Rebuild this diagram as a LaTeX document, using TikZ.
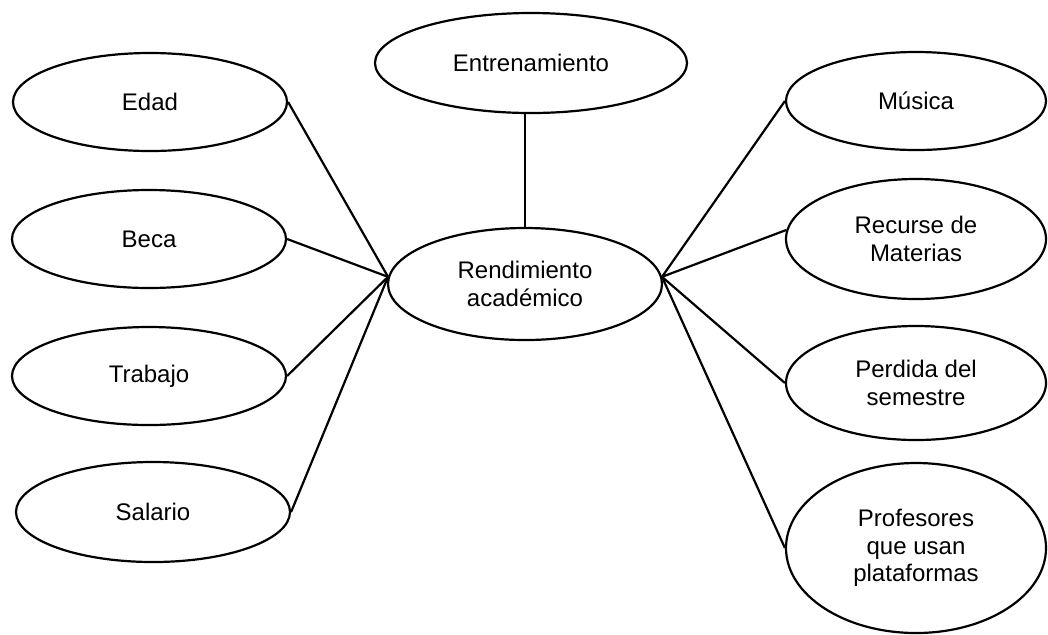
\documentclass[tikz,border=0pt]{standalone}
\usepackage{fontspec}
\setmainfont{Liberation Sans}
\usetikzlibrary{shapes.geometric}

\begin{document}
\begin{tikzpicture}[x=0.5pt,y=-0.5pt,
  factor/.style={draw,line width=1.1pt,ellipse,inner sep=0pt,align=center,
    font=\fontsize{12}{13.8}\selectfont},
  link/.style={line width=1.1pt}]

  % Fix the size of the page
  \useasboundingbox (0,0) rectangle (1048,634);

  % The central ellipse
  \node[factor,minimum width=137pt,minimum height=56pt] (ra) at (525,284)
    {Rendimiento\\acad\'emico};

  % The ellipse on top
  \node[factor,minimum width=156pt,minimum height=50pt] (ent) at (531,63)
    {Entrenamiento};

  % Ellipses on the left
  \node[factor,minimum width=137pt,minimum height=49pt] (edad) at (150,102) {Edad};
  \node[factor,minimum width=137pt,minimum height=49pt] (beca) at (149,239) {Beca};
  \node[factor,minimum width=137pt,minimum height=49pt] (trabajo) at (149,376) {Trabajo};
  \node[factor,minimum width=137pt,minimum height=50pt] (salario) at (153,512) {Salario};

  % Ellipses on the right
  \node[factor,minimum width=130pt,minimum height=49pt] (musica) at (916,101) {M\'usica};
  \node[factor,minimum width=130pt,minimum height=60pt] (recurse) at (916,239)
    {Recurse de\\Materias};
  \node[factor,minimum width=130pt,minimum height=57pt] (perdida) at (916,383)
    {Perdida del\\semestre};
  \node[factor,minimum width=130pt,minimum height=85pt] (profes) at (916,548)
    {Profesores\\que usan\\plataformas};

  % Line up to the top ellipse
  \draw[link] (ra.north) -- (ra.north |- ent.south);

  % Lines to the left
  \draw[link] (edad.east) -- (ra.177);
  \draw[link] (beca.east) -- (ra.177);
  \draw[link] (trabajo.east) -- (ra.177);
  \draw[link] (salario.east) -- (ra.177);

  % Lines to the right
  \draw[link] (ra.3) -- (musica.west);
  \draw[link] (ra.3) -- (recurse.176);
  \draw[link] (ra.3) -- (perdida.west);
  \draw[link] (ra.3) -- (profes.west);

\end{tikzpicture}
\end{document}
